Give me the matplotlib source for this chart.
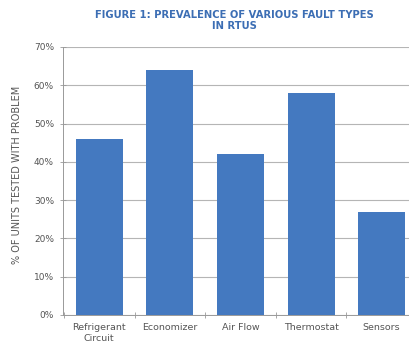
import matplotlib
matplotlib.use("Agg")
import matplotlib.pyplot as plt
from matplotlib import font_manager as fm
from matplotlib.ticker import FixedLocator

names = {f.name for f in fm.fontManager.ttflist}
narrow = "Liberation Sans Narrow" if "Liberation Sans Narrow" in names else "DejaVu Sans"

categories = ["Refrigerant\nCircuit", "Economizer", "Air Flow", "Thermostat", "Sensors"]
values = [46, 64, 42, 58, 27]
yticks = [0, 10, 20, 30, 40, 50, 60, 70]
ytick_labels = ["0%", "10%", "20%", "30%", "40%", "50%", "60%", "70%"]
title = "FIGURE 1: PREVALENCE OF VARIOUS FAULT TYPES\nIN RTUS"
ylabel = "% OF UNITS TESTED WITH PROBLEM"

fig = plt.figure(figsize=(4.09, 3.51), dpi=100)
ax = fig.add_axes([0.154, 0.1026, 0.846, 0.7635])

x = list(range(len(categories)))
ax.bar(x, values, width=0.665, color="#4479c0", zorder=3)

ax.set_ylim(0, 70)
ax.set_xlim(-0.513, 4.387)
ax.set_yticks(yticks)
ax.set_yticklabels(ytick_labels, fontfamily=narrow, fontsize=6.5, color="#555555")
ax.yaxis.grid(True, color="#b5b5b5", linewidth=0.8, zorder=0)
ax.set_xticks(x)
ax.set_xticklabels(categories, fontfamily=narrow, fontsize=6.8, color="#555555")
ax.tick_params(axis="x", length=0, pad=6)
ax.xaxis.set_minor_locator(FixedLocator([i - 0.5 for i in x]))
ax.tick_params(axis="x", which="minor", direction="inout", length=4, color="#999999", width=0.6)
ax.tick_params(axis="y", direction="inout", length=5, color="#999999", width=0.6, pad=4)

for s in ["top", "right"]:
    ax.spines[s].set_visible(False)
for s in ["left", "bottom"]:
    ax.spines[s].set_color("#999999")
    ax.spines[s].set_linewidth(0.7)

fig.text(17 / 409, 1 - 175 / 351, ylabel, rotation=90, ha="center", va="center",
         fontfamily=narrow, fontsize=7, color="#555555")

fig.text(0.572, 0.972, title, ha="center", va="top", fontfamily=narrow,
         fontweight="bold", fontsize=7.2, color="#3c6eb4", linespacing=1.2)

fig.savefig("out.png", dpi=100)
